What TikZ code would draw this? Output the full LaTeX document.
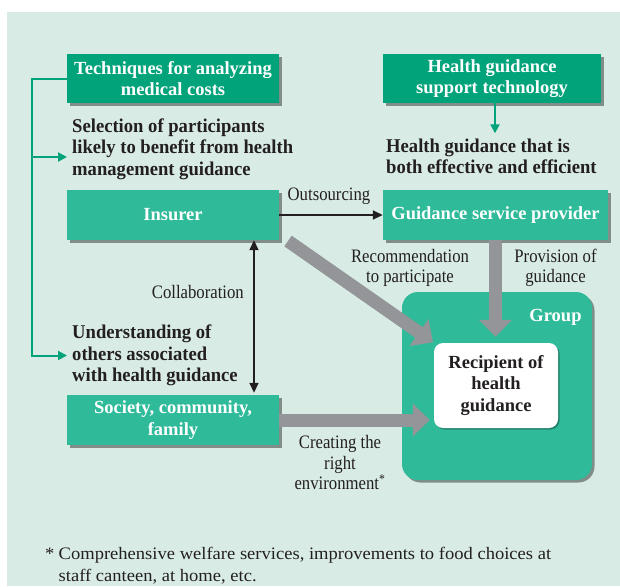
\documentclass[tikz,border=0pt]{standalone}
\usepackage{fontspec}
\setmainfont{Liberation Serif}
\newfontfamily\condserif[FakeStretch=0.88]{Liberation Serif}
\newfontfamily\semicond[FakeStretch=0.955]{Liberation Serif}
\newfontfamily\wideserif[FakeStretch=1.06]{Liberation Serif}
\usetikzlibrary{arrows.meta,shadows,calc}
\definecolor{bgmint}{RGB}{216,236,229}
\definecolor{dkgreen}{RGB}{0,163,122}
\definecolor{mdgreen}{RGB}{47,187,153}
\definecolor{arrgray}{RGB}{147,149,152}
\definecolor{txt}{RGB}{35,31,32}
\begin{document}
\begin{tikzpicture}[x=1pt,y=-1pt,
 shade box/.style={drop shadow={shadow xshift=2.5pt,shadow yshift=-2.5pt,opacity=0.4,fill=black}},
 box/.style={rectangle, inner sep=0pt, align=center, text=white, font=\fontsize{18.5}{21.5}\selectfont\bfseries, shade box},
 darkbox/.style={box, fill=dkgreen},
 midbox/.style={box, fill=mdgreen},
 boldtext/.style={inner sep=0pt, align=left, text=txt, font=\semicond\fontsize{19.5}{21.3}\selectfont\bfseries},
 lbl/.style={inner sep=0pt, align=center, text=txt, font=\condserif\fontsize{19}{20.5}\selectfont},
 blk/.style={draw=txt, line width=1.6pt, -{Triangle[length=10pt,width=9pt]}},
 grn/.style={draw=dkgreen, line width=2pt, -{Triangle[length=9pt,width=9pt]}},
 fat/.style={draw=arrgray, line width=13pt, -{Triangle[length=17pt,width=32pt]}},
]
\useasboundingbox (0,0) rectangle (620,586);
\fill[white] (0,0) rectangle (620,586);
\fill[bgmint] (7,12) rectangle (620,586);

% boxes
\node[darkbox, minimum width=212pt, minimum height=49pt] (tech) at (173,78.5) {Techniques for analyzing\\medical costs};
\node[darkbox, minimum width=218pt, minimum height=49pt] (hgst) at (492,78.5) {Health guidance\\support technology};
\node[midbox, minimum width=212pt, minimum height=50pt] (ins) at (173,215) {Insurer};
\node[midbox, minimum width=225pt, minimum height=50pt] (gsp) at (495.5,215) {Guidance service provider};
\node[midbox, minimum width=212pt, minimum height=50pt] (soc) at (173,420) {Society, community,\\family};
\node[fill=mdgreen, rounded corners=16pt, minimum width=190pt, minimum height=188pt, inner sep=0pt, shade box] (grp) at (497,386) {};
\node[inner sep=0pt, text=white, font=\fontsize{18.5}{21.5}\selectfont\bfseries] (glbl) at (555.5,317) {Group};
\node[fill=white, rounded corners=9pt, minimum width=124pt, minimum height=85pt, inner sep=0pt, align=center, text=txt, font=\fontsize{18.5}{21.8}\selectfont\bfseries, drop shadow={shadow xshift=1.5pt,shadow yshift=-1.5pt,opacity=0.3,fill=black}] (rec) at (496,385.5) {Recipient of\\health\\guidance};

% bold texts
\node[boldtext, anchor=west] (sel) at (72,149) {Selection of participants\\likely to benefit from health\\management guidance};
\node[boldtext, anchor=west] (hgt) at (386,156) {Health guidance that is\\both effective and efficient};
\node[boldtext, anchor=west] (und) at (72,355.5) {Understanding of\\others associated\\with health guidance};

% labels
\node[lbl] (outl) at (329,196) {Outsourcing};
\node[lbl, anchor=east] (coll) at (244,292) {Collaboration};
\node[lbl] (recl) at (410,268) {Recommendation\\to participate};
\node[lbl] (provl) at (555.5,268) {Provision of\\guidance};
\node[lbl] (envl) at (340,462.5) {Creating the\\right\\environment\textsuperscript{*}};
\node[inner sep=0pt, text=txt, anchor=west, align=left, font=\wideserif\fontsize{17.5}{22}\selectfont] (fn) at (45,566) {\makebox[13.5pt][l]{*}Comprehensive welfare services, improvements to food choices at\\\hspace{13.5pt}staff canteen, at home, etc.};

% green connectors
\coordinate (gx) at (32,0);
\coordinate (gsel) at (32,157);
\draw[grn, line join=miter, shorten >=5pt] (tech.west) -- (tech.west -| gx) -- (und.west -| gx) -- (und.west);
\draw[grn, shorten >=5pt] (gsel) -- (gsel -| sel.west);
\draw[grn, shorten >=5pt] ([xshift=3pt]hgst.south) -- ([xshift=3pt]hgst.south |- hgt.north);

% black connectors
\draw[blk] (ins.east) -- (gsp.west);
\draw[blk, {Triangle[length=10pt,width=9pt]}-{Triangle[length=10pt,width=9pt]}, shorten >=2pt] ([xshift=81pt]ins.south) -- ([xshift=81pt]soc.north);

% gray arrows
\coordinate (insout) at (288,241);
\draw[fat, shorten >=1pt] (insout) -- (rec.north west);
\draw[fat, shorten >=6pt] (gsp.south) -- (gsp.south |- rec.north);
\draw[fat, shorten >=4pt] (soc.east) -- (soc.east -| rec.west);
\end{tikzpicture}
\end{document}
